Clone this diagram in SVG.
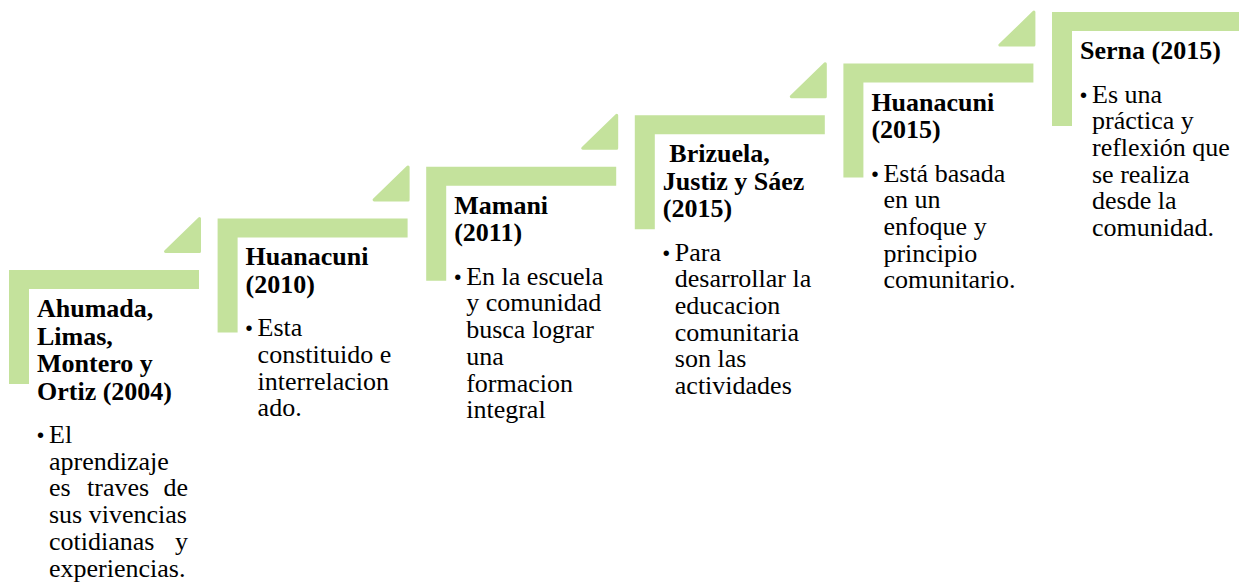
<svg xmlns="http://www.w3.org/2000/svg" width="1239" height="586" viewBox="0 0 1239 586">
<defs>
<style>
.bar{fill:#C4E29C}
.tri{fill:#C4E29C;stroke:#C4E29C;stroke-width:3;stroke-linejoin:round}
.h{font-family:"Liberation Serif","Times New Roman",serif;font-weight:bold;font-size:26px;fill:#000}
.b{font-family:"Liberation Serif","Times New Roman",serif;font-size:26px;fill:#000}
.bu{font-family:"Liberation Sans",Arial,sans-serif;font-size:20px;fill:#000}
</style>
<path id="L" d="M0,0 h190 v19 h-170 v95 h-20 z"/>
<path id="T" d="M156.5,-18.5 L190.5,-18.5 L190.5,-51.5 Z"/>
</defs>
<rect width="1239" height="586" fill="#fff"/>

<g id="step1" transform="translate(9,270)">
<use href="#L" class="bar"/><use href="#T" class="tri"/>
<text class="h"><tspan x="28" y="47">Ahumada,</tspan><tspan x="28" y="74.5">Limas,</tspan><tspan x="28" y="102">Montero y</tspan><tspan x="28" y="129.5">Ortiz (2004)</tspan></text>
<text class="bu" x="28" y="172">•</text>
<text class="b"><tspan x="40" y="173">El</tspan><tspan x="40" y="199.7">aprendizaje</tspan><tspan x="40" y="226.4">es</tspan><tspan x="78" y="226.4">traves</tspan><tspan x="179" y="226.4" text-anchor="end">de</tspan><tspan x="40" y="253.1">sus vivencias</tspan><tspan x="40" y="279.8">cotidianas</tspan><tspan x="179" y="279.8" text-anchor="end">y</tspan><tspan x="40" y="306.5">experiencias.</tspan></text>
</g>

<g id="step2" transform="translate(217.6,218.4)">
<use href="#L" class="bar"/><use href="#T" class="tri"/>
<text class="h"><tspan x="28" y="47">Huanacuni</tspan><tspan x="28" y="74.5">(2010)</tspan></text>
<text class="bu" x="28" y="117">•</text>
<text class="b"><tspan x="40" y="118">Esta</tspan><tspan x="40" y="144.7">constituido e</tspan><tspan x="40" y="171.4">interrelacion</tspan><tspan x="40" y="198.1">ado.</tspan></text>
</g>

<g id="step3" transform="translate(426.2,166.8)">
<use href="#L" class="bar"/><use href="#T" class="tri"/>
<text class="h"><tspan x="28" y="47">Mamani</tspan><tspan x="28" y="74.5">(2011)</tspan></text>
<text class="bu" x="28" y="117">•</text>
<text class="b"><tspan x="40" y="118">En la escuela</tspan><tspan x="40" y="144.7">y comunidad</tspan><tspan x="40" y="171.4">busca lograr</tspan><tspan x="40" y="198.1">una</tspan><tspan x="40" y="224.8">formacion</tspan><tspan x="40" y="251.5">integral</tspan></text>
</g>

<g id="step4" transform="translate(634.8,115.2)">
<use href="#L" class="bar"/><use href="#T" class="tri"/>
<text class="h"><tspan x="34.5" y="47">Brizuela,</tspan><tspan x="28" y="74.5">Justiz y Sáez</tspan><tspan x="28" y="102">(2015)</tspan></text>
<text class="bu" x="28" y="144.5">•</text>
<text class="b"><tspan x="40" y="145.5">Para</tspan><tspan x="40" y="172.2">desarrollar la</tspan><tspan x="40" y="198.9">educacion</tspan><tspan x="40" y="225.6">comunitaria</tspan><tspan x="40" y="252.3">son las</tspan><tspan x="40" y="279">actividades</tspan></text>
</g>

<g id="step5" transform="translate(843.4,63.6)">
<use href="#L" class="bar"/><use href="#T" class="tri"/>
<text class="h"><tspan x="28" y="47">Huanacuni</tspan><tspan x="28" y="74.5">(2015)</tspan></text>
<text class="bu" x="28" y="117">•</text>
<text class="b"><tspan x="40" y="118">Está basada</tspan><tspan x="40" y="144.7">en un</tspan><tspan x="40" y="171.4">enfoque y</tspan><tspan x="40" y="198.1">principio</tspan><tspan x="40" y="224.8">comunitario.</tspan></text>
</g>

<g id="step6" transform="translate(1052,12)">
<use href="#L" class="bar"/>
<text class="h"><tspan x="28" y="47">Serna (2015)</tspan></text>
<text class="bu" x="28" y="89.5">•</text>
<text class="b"><tspan x="40" y="90.5">Es una</tspan><tspan x="40" y="117.2">práctica y</tspan><tspan x="40" y="143.9">reflexión que</tspan><tspan x="40" y="170.6">se realiza</tspan><tspan x="40" y="197.3">desde la</tspan><tspan x="40" y="224">comunidad.</tspan></text>
</g>
<g id="connectors"/>
</svg>
